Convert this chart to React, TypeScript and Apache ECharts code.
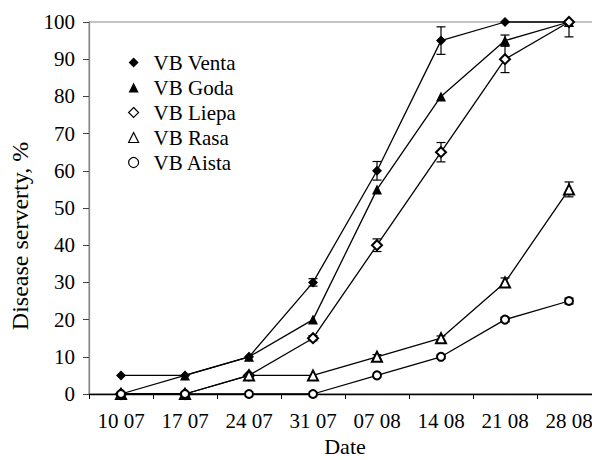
import React, { useEffect, useRef } from "react";
import * as echarts from "echarts";

const categories = ["10 07", "17 07", "24 07", "31 07", "07 08", "14 08", "21 08", "28 08"];
const yTicks = [0, 10, 20, 30, 40, 50, 60, 70, 80, 90, 100];

const venta = [5, 5, 10, 30, 60, 95, 100, 100];
const ventaErr = [0, 0, 0, 1, 2.5, 3.7, 0, 0];
const goda = [0, 5, 10, 20, 55, 80, 95, 100];
const godaErr = [0, 0, 0, 0, 0, 0, 1.5, 0];
const liepa = [0, 0, 5, 15, 40, 65, 90, 100];
const liepaErr = [0, 0, 0, 0.7, 1.7, 2.6, 3.6, 4];
const rasa = [0, 0, 5, 5, 10, 15, 30, 55];
const rasaErr = [0, 0, 0, 0, 0.6, 0.6, 1.2, 2];
const aista = [0, 0, 0, 0, 5, 10, 20, 25];
const aistaErr = [0, 0, 0, 0, 0, 0.5, 0.6, 0.8];

const seriesDefs = [
  { name: "VB Venta", values: venta, errs: ventaErr, symbol: "diamond", size: 10, filled: true },
  { name: "VB Goda", values: goda, errs: godaErr, symbol: "triangle", size: 10, filled: true },
  { name: "VB Liepa", values: liepa, errs: liepaErr, symbol: "emptyDiamond", size: 10, filled: false },
  { name: "VB Rasa", values: rasa, errs: rasaErr, symbol: "emptyTriangle", size: 10, filled: false },
  { name: "VB Aista", values: aista, errs: aistaErr, symbol: "emptyCircle", size: 8, filled: false },
];

const FONT = "Liberation Serif";

export default function App() {
  const ref = useRef<HTMLDivElement>(null);
  useEffect(() => {
    document.body.style.margin = "0";
    const chart = echarts.init(ref.current!, null, { renderer: "svg" });

    const lineSeries = seriesDefs.map((s) => ({
      name: s.name,
      type: "line",
      data: s.values,
      symbol: s.symbol,
      symbolSize: s.size,
      showAllSymbol: true,
      lineStyle: { color: "#000", width: 1.3 },
      itemStyle: { color: "#000", borderWidth: s.filled ? 0 : 1.2 },
      z: 3,
      clip: false,
    }));

    const errSeries = seriesDefs.map((s) => ({
      name: s.name + " err",
      type: "custom",
      z: 2,
      data: s.values
        .map((v, i) => (s.errs[i] > 0 ? [i, v - s.errs[i], Math.min(100, v + s.errs[i])] : null))
        .filter((d) => d !== null),
      encode: { x: 0, y: [1, 2] },
      renderItem: (params: any, api: any) => {
        const x = api.value(0);
        const p1 = api.coord([x, api.value(2)]);
        const p2 = api.coord([x, api.value(1)]);
        const w = 4.5;
        const st = { stroke: "#000", lineWidth: 1.2 };
        return {
          type: "group",
          children: [
            { type: "line", shape: { x1: p1[0], y1: p1[1], x2: p2[0], y2: p2[1] }, style: st },
            { type: "line", shape: { x1: p1[0] - w, y1: p1[1], x2: p1[0] + w, y2: p1[1] }, style: st },
            { type: "line", shape: { x1: p2[0] - w, y1: p2[1], x2: p2[0] + w, y2: p2[1] }, style: st },
          ],
        };
      },
    }));

    chart.setOption({
      animation: false,
      backgroundColor: "#fff",
      textStyle: { fontFamily: FONT, color: "#000" },
      grid: {
        left: 89,
        top: 22,
        width: 512,
        height: 372,
        show: true,
        borderColor: "#888",
        borderWidth: 1,
        containLabel: false,
        outerBoundsMode: "none",
      },
      legend: {
        orient: "vertical",
        left: 123,
        top: 47,
        itemWidth: 10,
        itemHeight: 10,
        itemGap: 4,
        textStyle: { fontFamily: FONT, fontSize: 21, color: "#000", lineHeight: 21, padding: [0, 0, 0, 10] },
        data: seriesDefs.map((s) => ({
          name: s.name,
          icon: s.filled ? s.symbol : s.symbol.replace("empty", "").toLowerCase(),
          itemStyle: s.filled
            ? { color: "#000", borderWidth: 0 }
            : { color: "#fff", borderColor: "#000", borderWidth: 1.2 },
        })),
      },
      xAxis: {
        type: "category",
        data: categories,
        boundaryGap: true,
        name: "Date",
        nameLocation: "middle",
        nameGap: 41,
        nameTextStyle: { fontFamily: FONT, fontSize: 22, color: "#000" },
        axisLine: { lineStyle: { color: "#000", width: 1.3 } },
        axisTick: { show: true, length: 5, lineStyle: { color: "#000" } },
        axisLabel: { fontFamily: FONT, fontSize: 21, color: "#000", margin: 16, interval: 0 },
        splitLine: { show: false },
      },
      yAxis: {
        type: "value",
        min: yTicks[0],
        max: yTicks[yTicks.length - 1],
        interval: yTicks[1] - yTicks[0],
        name: "Disease serverty, %",
        nameLocation: "middle",
        nameGap: 57,
        nameTextStyle: { fontFamily: FONT, fontSize: 24, color: "#000", padding: [0, 56, 0, 0] },
        axisLine: { show: true, lineStyle: { color: "#888", width: 1.3 } },
        axisTick: { show: true, length: 6, lineStyle: { color: "#444" } },
        axisLabel: { fontFamily: FONT, fontSize: 21, color: "#000", margin: 14 },
        splitLine: { show: false },
      },
      series: [...errSeries, ...lineSeries],
    });
    return () => chart.dispose();
  }, []);
  return (
    <div
      ref={ref}
      style={{ position: "fixed", left: 0, top: 0, width: 592, height: 460, background: "#fff" }}
    />
  );
}
